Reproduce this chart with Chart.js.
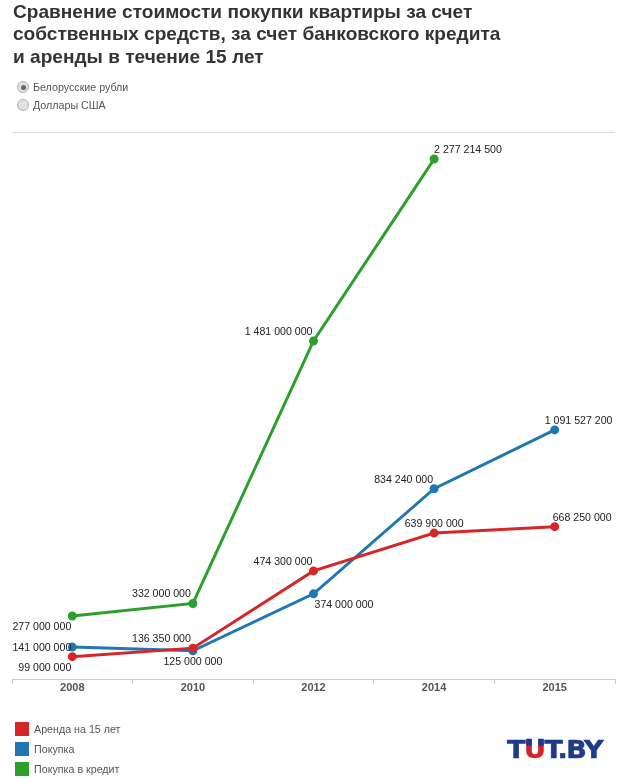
<!DOCTYPE html>
<html><head><meta charset="utf-8">
<style>
html,body{margin:0;padding:0;background:#fff;width:628px;height:782px;overflow:hidden;font-family:"Liberation Sans",Arial,sans-serif}
#c{position:absolute;left:0;top:0}
h1{position:absolute;left:13px;top:0.5px;margin:0;font-size:19.08px;line-height:22.5px;font-weight:bold;color:#333;white-space:nowrap}
.r{position:absolute;left:17px;font-size:10.7px;color:#555;white-space:nowrap;line-height:13px}
.r i{position:absolute;left:0;top:0;width:10px;height:10px;border-radius:50%;background:#e2e2e2;border:1px solid #b0b0b0}
.r.on i::after{content:"";position:absolute;left:2.5px;top:2.5px;width:5px;height:5px;border-radius:50%;background:#666}
.r span{margin-left:16px}
.lg{position:absolute;left:15px;font-size:10.7px;color:#555;line-height:14px;white-space:nowrap}
.lg b{display:inline-block;width:14px;height:14px;vertical-align:top;margin-right:5px}
#logo{position:absolute;left:507px;top:736px;font:900 25px "DejaVu Sans",sans-serif;color:#1f3a8a;letter-spacing:-1.3px;white-space:nowrap;line-height:28px;transform:scaleX(1.08);transform-origin:left center;-webkit-text-stroke:.5px #1f3a8a}
#logo em{font-style:normal;position:relative;color:#d7202a;-webkit-text-stroke:.5px #d7202a}
#logo em::after{content:"U";position:absolute;left:0;top:0;color:#1f3a8a;-webkit-text-stroke:.5px #1f3a8a;clip-path:inset(0 0 62% 0)}
</style></head><body>
<canvas id="c" width="628" height="782"></canvas>
<h1 id="title"></h1>
<div id="radios"></div>
<div id="legend"></div>
<div id="logo">T<em>U</em>T.BY</div>
<script src="https://cdn.jsdelivr.net/npm/chart.js@4"></script>
<script>
const titleLines=["Сравнение стоимости покупки квартиры за счет","собственных средств, за счет банковского кредита","и аренды в течение 15 лет"];
const radioLabels=["Белорусские рубли","Доллары США"];
const categories=["2008","2010","2012","2014","2015"];
const rentName="Аренда на 15 лет";
const buyName="Покупка";
const creditName="Покупка в кредит";
const rentValues=[99000000,136350000,474300000,639900000,668250000];
const buyValues=[141000000,125000000,374000000,834240000,1091527200];
const creditValues=[277000000,332000000,1481000000,2277214500,null];
const rentColor="#d62728",buyColor="#1f77b4",creditColor="#2ca02c";
// label anchor: [dx, dy, align] relative to the point
const rentOffsets=[[-1,11,"right"],[-2,-9,"right"],[-1,-9,"right"],[0,-9,"center"],[-2,-9,"left"]];
const buyOffsets=[[-1,1,"right"],[0,11,"center"],[1,11,"left"],[-1,-9,"right"],[-10,-9,"left"]];
const creditOffsets=[[-1,11,"right"],[-2,-9,"right"],[-1,-9,"right"],[0,-9,"left"],null];

document.getElementById("title").innerHTML=titleLines.join("<br>");
document.getElementById("radios").innerHTML=radioLabels.map((t,i)=>`<div class="r${i==0?" on":""}" style="top:${81+i*18}px"><i></i><span>${t}</span></div>`).join("");
const legendItems=[[rentName,rentColor],[buyName,buyColor],[creditName,creditColor]];
document.getElementById("legend").innerHTML=legendItems.map((l,i)=>`<div class="lg" style="top:${722+i*20}px"><b style="background:${l[1]}"></b>${l[0]}</div>`).join("");

const fmt=v=>String(v).replace(/\B(?=(\d{3})+$)/g," ");
const pointLabels={id:"pointLabels",afterDatasetsDraw(ch){
  const c=ch.ctx;c.save();c.font='10.6px "Liberation Sans"';c.fillStyle="#222";c.textBaseline="middle";
  ch.data.datasets.forEach((ds,i)=>{
    const offs=[rentOffsets,buyOffsets,creditOffsets][i];
    ds.data.forEach((v,j)=>{
      if(v==null)return;
      const x=ch.scales.x.getPixelForValue(j),y=ch.scales.y.getPixelForValue(v),o=offs[j];
      c.textAlign=o[2];c.fillText(fmt(v),x+o[0],y+o[1]);
    });
  });
  c.restore();
}};
const ds=(label,data,color)=>({label,data,borderColor:color,backgroundColor:color,borderWidth:3,pointRadius:3,pointHoverRadius:3,tension:0,spanGaps:false,borderCapStyle:"round"});
new Chart(document.getElementById("c"),{
  type:"line",
  data:{labels:categories,datasets:[ds(rentName,rentValues,rentColor),ds(buyName,buyValues,buyColor),ds(creditName,creditValues,creditColor)]},
  options:{
    responsive:false,animation:false,devicePixelRatio:1,
    layout:{padding:{left:12,right:13,top:131,bottom:89.5}},
    plugins:{legend:{display:false},title:{display:false},tooltip:{enabled:false}},
    scales:{
      x:{offset:true,border:{color:"#ccc",width:1},grid:{display:true,drawOnChartArea:false,color:"#ccc",tickLength:5,offset:true},
         ticks:{color:"#555",font:{size:11,weight:"bold",family:'"Liberation Sans"'},padding:-2.5,maxRotation:0}},
      y:{display:false,min:0,max:2400000000}
    }
  },
  plugins:[pointLabels,{id:"rule",beforeDraw(ch){const c=ch.ctx;c.save();c.strokeStyle="#ddd";c.lineWidth=1;c.beginPath();c.moveTo(12,132.5);c.lineTo(615,132.5);c.stroke();c.restore();}}]
});
</script>
</body></html>
